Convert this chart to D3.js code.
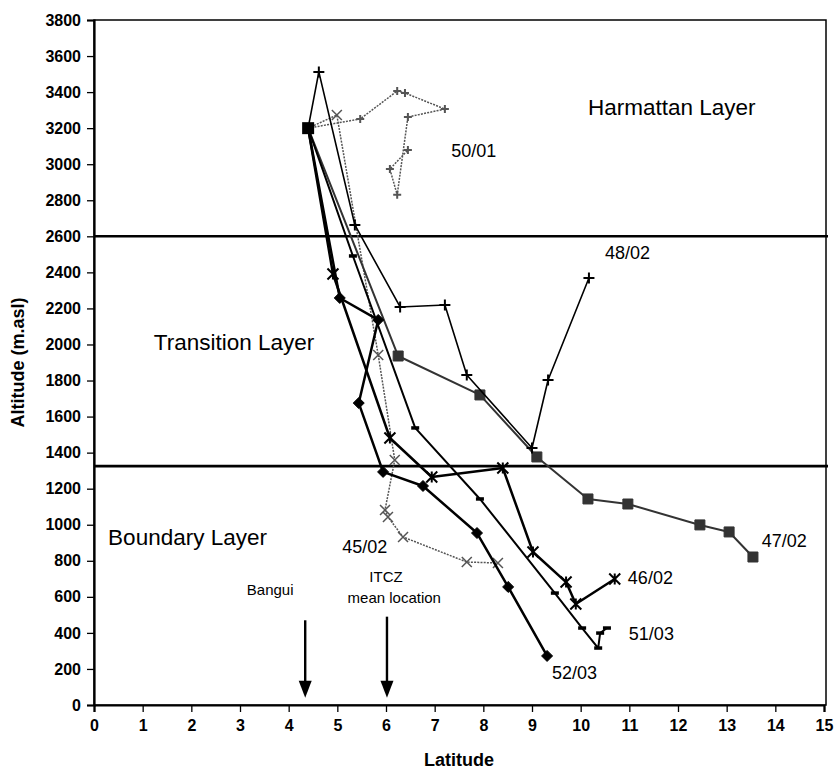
<!DOCTYPE html>
<html>
<head>
<meta charset="utf-8">
<script src="https://cdn.jsdelivr.net/npm/d3@7"></script>
<style>
  body { margin: 0; background: #fff; }
  svg { display: block; }
  text { font-family: "Liberation Sans", Arial, Helvetica, sans-serif; fill: #000; }
</style>
</head>
<body>
<svg id="chart" width="836" height="774"></svg>
<script>
// Axis ticks
const latTicks = d3.range(0, 16, 1);
const altTicks = d3.range(0, 3801, 200);

// Layer boundaries (m a.s.l.)
const layerBounds = [2600, 1325];

// Trajectories: [latitude, altitude]
const traj_45_02 = [[4.4,3200],[4.99,3273],[5.84,1942],[6.18,1359],[5.98,1082],[6.04,1043],[6.35,932],[7.66,793],[8.30,788]];
const traj_50_01 = [[4.4,3200],[5.47,3251],[6.23,3406],[6.39,3395],[7.21,3306],[6.45,3262],[6.23,2830],[6.08,2973],[6.45,3079]];
const traj_47_02 = [[4.4,3200],[6.25,1936],[7.93,1720],[9.10,1376],[10.15,1143],[10.97,1115],[12.45,999],[13.05,960],[13.54,821]];
const traj_48_02 = [[4.4,3200],[4.62,3512],[5.36,2663],[6.29,2208],[7.21,2219],[7.66,1831],[9.00,1426],[9.33,1803],[10.17,2369]];
const traj_46_02 = [[4.4,3200],[4.91,2391],[6.08,1481],[6.94,1265],[8.40,1315],[9.02,849],[9.70,682],[9.90,560],[10.70,699]];
const traj_52_03 = [[4.4,3200],[5.05,2258],[5.84,2136],[5.44,1675],[5.94,1293],[6.76,1215],[7.87,954],[8.51,655],[9.31,272]];
const traj_51_03 = [[4.4,3200],[5.32,2491],[6.60,1537],[7.93,1143],[9.47,621],[10.03,427],[10.36,316],[10.40,399],[10.54,427]];

// Trajectory labels [text, lat, alt]
const trajLabels = [
  ["50/01", 7.34, 3040], ["48/02", 10.5, 2474], ["47/02", 13.72, 876],
  ["46/02", 10.97, 671], ["51/03", 10.99, 361], ["52/03", 9.41, 144],
  ["45/02", 5.10, 844]
];

// Layer names [text, lat, alt]
const layerLabels = [
  ["Harmattan Layer", 10.15, 3273],
  ["Transition Layer", 1.23, 1970],
  ["Boundary Layer", 0.29, 888]
];

// Reference locations on the ground
const bangui = 4.34;
const itczMean = 6.02;

const svg = d3.select("#chart");
const x = d3.scaleLinear().domain([0, 15]).range([94, 824]);
const y = d3.scaleLinear().domain([0, 3800]).range([705, 20]);

// Frame
svg.append("rect")
  .attr("x", x(0)).attr("y", y(3800))
  .attr("width", x(15) - x(0) + 2).attr("height", y(0) - y(3800))
  .attr("fill", "none").attr("stroke", "#000").attr("stroke-width", 1.5);

// Axes
const yAxis = svg.append("g").attr("transform", `translate(${x(0)},0)`)
  .call(d3.axisLeft(y).tickValues(altTicks).tickSize(7).tickPadding(6).tickFormat(d3.format("d")));
const xAxis = svg.append("g").attr("transform", `translate(0,${y(0)})`)
  .call(d3.axisBottom(x).tickValues(latTicks).tickSize(7).tickPadding(8).tickFormat(d3.format("d")));
[yAxis, xAxis].forEach(a => {
  a.select(".domain").attr("stroke", "#000").attr("stroke-width", 2.2);
  a.selectAll(".tick line").attr("stroke", "#000").attr("stroke-width", 1.3);
  a.selectAll(".tick text").attr("font-size", 16).attr("font-weight", "bold")
    .attr("font-family", "'Liberation Sans', Arial, sans-serif").attr("fill", "#000");
});

svg.append("text").attr("transform", `translate(24,${(y(0)+y(3800))/2}) rotate(-90)`)
  .attr("text-anchor", "middle").attr("font-size", 18).attr("font-weight", "bold")
  .text("Altitude (m.asl)");
svg.append("text").attr("x", (x(0)+x(15))/2).attr("y", 766)
  .attr("text-anchor", "middle").attr("font-size", 18).attr("font-weight", "bold")
  .text("Latitude");

// Layer boundaries
svg.selectAll("line.layer").data(layerBounds).join("line")
  .attr("x1", x(0)).attr("x2", x(15) + 4)
  .attr("y1", d => y(d)).attr("y2", d => y(d))
  .attr("stroke", "#000").attr("stroke-width", 2.6);

svg.selectAll("text.layer").data(layerLabels).join("text")
  .attr("x", d => x(d[1])).attr("y", d => y(d[2]))
  .attr("font-size", 22.5).text(d => d[0]);

// Marker shapes
const mk = {
  square: s => `M${-s/2},${-s/2}h${s}v${s}h${-s}Z`,
  diamond: s => `M0,${-s/2}L${s/2},0L0,${s/2}L${-s/2},0Z`,
  plus: s => `M${-s/2},0H${s/2}M0,${-s/2}V${s/2}`,
  star: s => `M${-s/2},${-s/2}L${s/2},${s/2}M${-s/2},${s/2}L${s/2},${-s/2}M0,${-s/2}V${s/2}`,
  ex: s => `M${-s/2},${-s/2}L${s/2},${s/2}M${-s/2},${s/2}L${s/2},${-s/2}`,
  dash: s => `M${-s/2},0H${s/2}`
};

const line = d3.line().x(d => x(d[0])).y(d => y(d[1]));

const styles = [
  {data: traj_45_02, color: "#555", width: 1.5, dash: "2,1.2", shape: "ex", size: 10, fill: false, mw: 1.5},
  {data: traj_50_01, color: "#555", width: 1.5, dash: "2,1.2", shape: "plus", size: 8, fill: false, mw: 2},
  {data: traj_47_02, color: "#333", width: 2, dash: null, shape: "square", size: 10, fill: true, mw: 1},
  {data: traj_48_02, color: "#000", width: 1.6, dash: null, shape: "plus", size: 11, fill: false, mw: 2},
  {data: traj_51_03, color: "#000", width: 2, dash: null, shape: "dash", size: 8, fill: false, mw: 3.5},
  {data: traj_52_03, color: "#000", width: 2.5, dash: null, shape: "diamond", size: 11, fill: true, mw: 1},
  {data: traj_46_02, color: "#000", width: 2.5, dash: null, shape: "star", size: 11, fill: false, mw: 2}
];

styles.forEach(st => {
  svg.append("path").datum(st.data)
    .attr("d", line).attr("fill", "none")
    .attr("stroke", st.color).attr("stroke-width", st.width)
    .attr("stroke-dasharray", st.dash)
    .attr("stroke-linejoin", "round");
  svg.append("g").selectAll("path").data(st.data.slice(1)).join("path")
    .attr("transform", d => `translate(${x(d[0])},${y(d[1])})`)
    .attr("d", mk[st.shape](st.size))
    .attr("fill", st.fill ? st.color : "none")
    .attr("stroke", st.color).attr("stroke-width", st.mw);
});

// Common origin point
svg.append("path").attr("transform", `translate(${x(4.4)},${y(3200)})`)
  .attr("d", mk.square(12)).attr("fill", "#000");

svg.selectAll("text.traj").data(trajLabels).join("text")
  .attr("x", d => x(d[1])).attr("y", d => y(d[2]))
  .attr("font-size", 18).text(d => d[0]);

// Ground reference arrows
function arrow(lat, topAlt) {
  const xp = x(lat), tip = y(40), top = y(topAlt);
  svg.append("line").attr("x1", xp).attr("x2", xp).attr("y1", top).attr("y2", tip - 14)
    .attr("stroke", "#000").attr("stroke-width", 2.4);
  svg.append("path").attr("d", `M${xp-6.5},${tip-17}L${xp+6.5},${tip-17}L${xp},${tip}Z`).attr("fill", "#000");
}
arrow(bangui, 470);
arrow(itczMean, 490);

svg.append("text").attr("x", x(3.14)).attr("y", y(610)).attr("font-size", 15).text("Bangui");
svg.append("text").attr("x", x(6.0)).attr("y", y(680)).attr("font-size", 15).attr("text-anchor", "middle").text("ITCZ");
svg.append("text").attr("x", x(6.17)).attr("y", y(564)).attr("font-size", 15).attr("text-anchor", "middle").text("mean location");
</script>
</body>
</html>
